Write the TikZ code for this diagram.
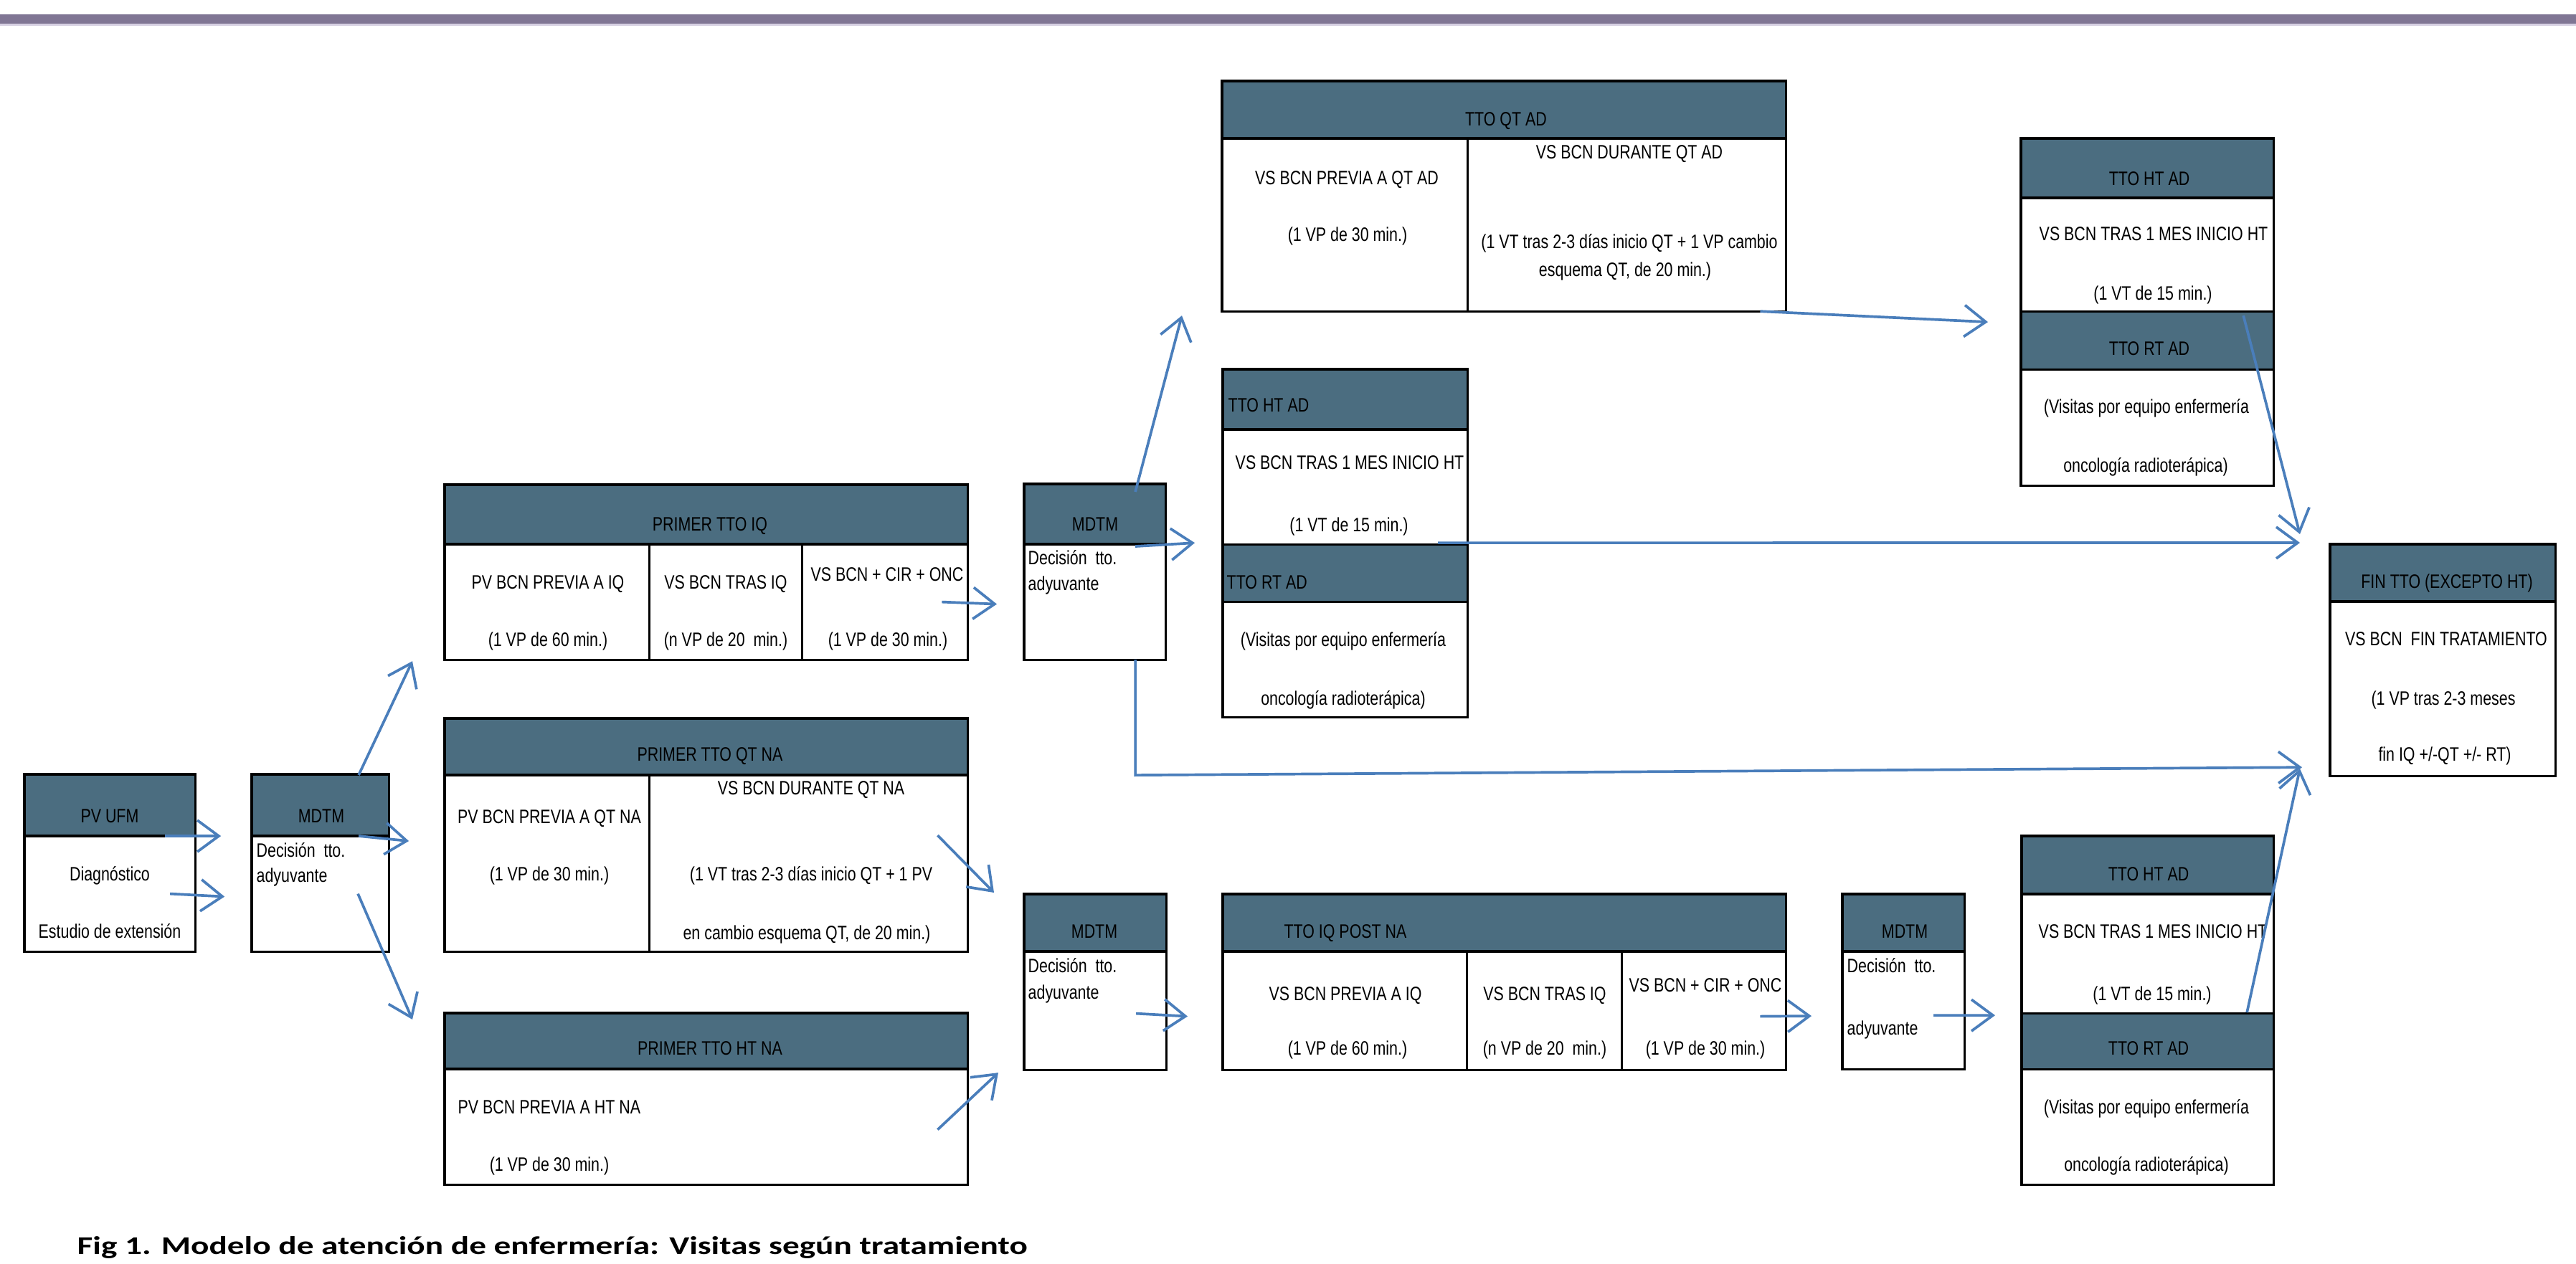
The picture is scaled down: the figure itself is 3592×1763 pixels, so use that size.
\documentclass[tikz,border=0pt]{standalone}
\usepackage{fontspec}
\setmainfont[FakeStretch=0.79]{Liberation Sans}
\newfontfamily\capfont[FakeStretch=1.33]{Carlito}
\usetikzlibrary{arrows.meta, positioning, calc}
\definecolor{slate}{RGB}{75,109,128}
\definecolor{flowblue}{RGB}{74,126,187}
\definecolor{bandpurple}{RGB}{128,118,148}
\definecolor{bandline}{RGB}{214,208,226}

\begin{document}
\begin{tikzpicture}[
  x=0.01cm, y=-0.01cm,
  head/.style={rectangle, draw=black, line width=0.9pt, fill=slate, inner sep=0pt, outer sep=0pt, anchor=north west},
  cell/.style={rectangle, draw=black, line width=0.9pt, fill=white, inner sep=0pt, outer sep=0pt, anchor=north west},
  txt/.style={inner sep=0pt, font=\fontsize{7.7}{9}\selectfont, text height=0.7em, text depth=0.2em},
  ltxt/.style={txt, anchor=west},
  flow/.style={draw=flowblue, line width=1.05pt, -{Straight Barb[length=8.5pt, width=12.5pt]}}
]
  \useasboundingbox (0,0) rectangle (3592,1763);
  \fill[white] (0,0) rectangle (3592,1763);

  % franja superior
  \fill[bandpurple] (0,20) rectangle (3592,33);
  \fill[bandline] (0,33) rectangle (3592,36);

  % Primera visita y primer comite
  \node[head, minimum width=2.38cm, minimum height=0.86cm] (ufmH) at (34,1080) {};
  \node[cell, minimum width=2.38cm, minimum height=1.61cm] (ufmB) at (ufmH.south west) {};
  \node[head, minimum width=1.91cm, minimum height=0.86cm] (mdtmAH) at (351,1080) {};
  \node[cell, minimum width=1.91cm, minimum height=1.61cm] (mdtmAB) at (mdtmAH.south west) {};

  % Primer tratamiento
  \node[head, minimum width=7.29cm, minimum height=0.83cm] (iqH) at (620,676) {};
  \node[cell, minimum width=2.85cm, minimum height=1.61cm] (iqB1) at (iqH.south west) {};
  \node[cell, minimum width=2.13cm, minimum height=1.61cm] (iqB2) at (iqB1.north east) {};
  \node[cell, minimum width=2.31cm, minimum height=1.61cm] (iqB3) at (iqB2.north east) {};

  \node[head, minimum width=7.29cm, minimum height=0.79cm] (qtnaH) at (620,1002) {};
  \node[cell, minimum width=2.85cm, minimum height=2.46cm] (qtnaB1) at (qtnaH.south west) {};
  \node[cell, minimum width=4.44cm, minimum height=2.46cm] (qtnaB2) at (qtnaB1.north east) {};

  \node[head, minimum width=7.29cm, minimum height=0.78cm] (htnaH) at (620,1413) {};
  \node[cell, minimum width=7.29cm, minimum height=1.61cm] (htnaB) at (htnaH.south west) {};

  % Comites
  \node[head, minimum width=1.97cm, minimum height=0.84cm] (mdtmBH) at (1428,675) {};
  \node[cell, minimum width=1.97cm, minimum height=1.61cm] (mdtmBB) at (mdtmBH.south west) {};
  \node[head, minimum width=1.98cm, minimum height=0.80cm] (mdtmCH) at (1428,1247) {};
  \node[cell, minimum width=1.98cm, minimum height=1.65cm] (mdtmCB) at (mdtmCH.south west) {};

  % Tratamientos adyuvantes
  \node[head, minimum width=7.86cm, minimum height=0.80cm] (qtadH) at (1704,113) {};
  \node[cell, minimum width=3.42cm, minimum height=2.41cm] (qtadB1) at (qtadH.south west) {};
  \node[cell, minimum width=4.44cm, minimum height=2.41cm] (qtadB2) at (qtadB1.north east) {};

  \node[head, minimum width=3.41cm, minimum height=0.84cm] (htadAH) at (1705,515) {};
  \node[cell, minimum width=3.41cm, minimum height=1.60cm] (htadAB) at (htadAH.south west) {};
  \node[head, minimum width=3.41cm, minimum height=0.80cm] (rtadAH) at (htadAB.south west) {};
  \node[cell, minimum width=3.41cm, minimum height=1.61cm] (rtadAB) at (rtadAH.south west) {};

  \node[head, minimum width=7.85cm, minimum height=0.80cm] (iqpostH) at (1705,1247) {};
  \node[cell, minimum width=3.40cm, minimum height=1.65cm] (iqpostB1) at (iqpostH.south west) {};
  \node[cell, minimum width=2.16cm, minimum height=1.65cm] (iqpostB2) at (iqpostB1.north east) {};
  \node[cell, minimum width=2.29cm, minimum height=1.65cm] (iqpostB3) at (iqpostB2.north east) {};

  \node[head, minimum width=1.70cm, minimum height=0.80cm] (mdtmDH) at (2569,1247) {};
  \node[cell, minimum width=1.70cm, minimum height=1.64cm] (mdtmDB) at (mdtmDH.south west) {};

  \node[head, minimum width=3.52cm, minimum height=0.83cm] (htadBH) at (2818,193) {};
  \node[cell, minimum width=3.52cm, minimum height=1.58cm] (htadBB) at (htadBH.south west) {};
  \node[head, minimum width=3.52cm, minimum height=0.81cm] (rtadBH) at (htadBB.south west) {};
  \node[cell, minimum width=3.52cm, minimum height=1.62cm] (rtadBB) at (rtadBH.south west) {};

  \node[head, minimum width=3.51cm, minimum height=0.81cm] (htadCH) at (2819,1166) {};
  \node[cell, minimum width=3.51cm, minimum height=1.66cm] (htadCB) at (htadCH.south west) {};
  \node[head, minimum width=3.51cm, minimum height=0.78cm] (rtadCH) at (htadCB.south west) {};
  \node[cell, minimum width=3.51cm, minimum height=1.61cm] (rtadCB) at (rtadCH.south west) {};

  % Fin de tratamiento
  \node[head, minimum width=3.14cm, minimum height=0.80cm] (finH) at (3249,759) {};
  \node[cell, minimum width=3.14cm, minimum height=2.43cm] (finB) at (finH.south west) {};

  % Textos
  \node[txt] (ufmT) at (153,1139) {PV UFM};
  \node[txt] (ufmT1) at (153,1220) {Diagnóstico};
  \node[txt] (ufmT2) at (153,1300) {Estudio de extensión};

  \node[txt] (mdtmAT) at (448,1139) {MDTM};
  \node[ltxt] (mdtmAT1) at (357,1187) {Decisión~ tto.};
  \node[ltxt] (mdtmAT2) at (357,1222) {adyuvante};

  \node[txt] (iqT) at (990,732) {PRIMER TTO IQ};
  \node[txt] (iqT1) at (764,813) {PV BCN PREVIA A IQ};
  \node[txt] (iqT2) at (764,893) {(1 VP de 60 min.)};
  \node[txt] (iqT3) at (1012,813) {VS BCN TRAS IQ};
  \node[txt] (iqT4) at (1012,893) {(n VP de 20~ min.)};
  \node[txt] (iqT5) at (1237,802) {VS BCN + CIR + ONC};
  \node[txt] (iqT6) at (1238,893) {(1 VP de 30 min.)};

  \node[txt] (qtnaT) at (990,1053) {PRIMER TTO QT NA};
  \node[txt] (qtnaT1) at (766,1140) {PV BCN PREVIA A QT NA};
  \node[txt] (qtnaT2) at (766,1220) {(1 VP de 30 min.)};
  \node[txt] (qtnaT3) at (1131,1100) {VS BCN DURANTE QT NA};
  \node[txt] (qtnaT4) at (1131,1220) {(1 VT tras 2-3 días inicio QT + 1 PV};
  \node[txt] (qtnaT5) at (1125,1302) {en cambio esquema QT, de 20 min.)};

  \node[txt] (htnaT) at (990,1463) {PRIMER TTO HT NA};
  \node[ltxt] (htnaT1) at (638,1545) {PV BCN PREVIA A HT NA};
  \node[txt] (htnaT2) at (766,1625) {(1 VP de 30 min.)};

  \node[txt] (mdtmBT) at (1527,732) {MDTM};
  \node[ltxt] (mdtmBT1) at (1433,779) {Decisión~ tto.};
  \node[ltxt] (mdtmBT2) at (1433,815) {adyuvante};

  \node[txt] (mdtmCT) at (1526,1300) {MDTM};
  \node[ltxt] (mdtmCT1) at (1433,1348) {Decisión~ tto.};
  \node[ltxt] (mdtmCT2) at (1433,1385) {adyuvante};

  \node[txt] (qtadT) at (2100,167) {TTO QT AD};
  \node[txt] (qtadT1) at (1878,249) {VS BCN PREVIA A QT AD};
  \node[txt] (qtadT2) at (1879,328) {(1 VP de 30 min.)};
  \node[txt] (qtadT3) at (2272,213) {VS BCN DURANTE QT AD};
  \node[txt] (qtadT4) at (2272,338) {(1 VT tras 2-3 días inicio QT + 1 VP cambio};
  \node[txt] (qtadT5) at (2266,377) {esquema QT, de 20 min.)};

  \node[ltxt] (htadAT) at (1712,566) {TTO HT AD};
  \node[txt] (htadAT1) at (1882,646) {VS BCN TRAS 1 MES INICIO HT};
  \node[txt] (htadAT2) at (1881,733) {(1 VT de 15 min.)};
  \node[ltxt] (rtadAT) at (1710,813) {TTO RT AD};
  \node[txt] (rtadAT1) at (1873,893) {(Visitas por equipo enfermería};
  \node[txt] (rtadAT2) at (1873,975) {oncología radioterápica)};

  \node[txt] (iqpostT) at (1876,1300) {TTO IQ POST NA};
  \node[txt] (iqpostT1) at (1876,1387) {VS BCN PREVIA A IQ};
  \node[txt] (iqpostT2) at (1879,1463) {(1 VP de 60 min.)};
  \node[txt] (iqpostT3) at (2154,1387) {VS BCN TRAS IQ};
  \node[txt] (iqpostT4) at (2154,1463) {(n VP de 20~ min.)};
  \node[txt] (iqpostT5) at (2378,1375) {VS BCN + CIR + ONC};
  \node[txt] (iqpostT6) at (2378,1463) {(1 VP de 30 min.)};

  \node[txt] (mdtmDT) at (2656,1300) {MDTM};
  \node[ltxt] (mdtmDT1) at (2575,1348) {Decisión~ tto.};
  \node[ltxt] (mdtmDT2) at (2575,1435) {adyuvante};

  \node[txt] (htadBT) at (2997,250) {TTO HT AD};
  \node[txt] (htadBT1) at (3003,327) {VS BCN TRAS 1 MES INICIO HT};
  \node[txt] (htadBT2) at (3002,410) {(1 VT de 15 min.)};
  \node[txt] (rtadBT) at (2997,487) {TTO RT AD};
  \node[txt] (rtadBT1) at (2993,568) {(Visitas por equipo enfermería};
  \node[txt] (rtadBT2) at (2992,650) {oncología radioterápica)};

  \node[txt] (htadCT) at (2996,1220) {TTO HT AD};
  \node[txt] (htadCT1) at (3002,1300) {VS BCN TRAS 1 MES INICIO HT};
  \node[txt] (htadCT2) at (3001,1387) {(1 VT de 15 min.)};
  \node[txt] (rtadCT) at (2996,1463) {TTO RT AD};
  \node[txt] (rtadCT1) at (2993,1545) {(Visitas por equipo enfermería};
  \node[txt] (rtadCT2) at (2993,1625) {oncología radioterápica)};

  \node[txt] (finT) at (3412,812) {FIN TTO (EXCEPTO HT)};
  \node[txt] (finT1) at (3411,892) {VS BCN~ FIN TRATAMIENTO};
  \node[txt] (finT2) at (3407,975) {(1 VP tras 2-3 meses};
  \node[txt] (finT3) at (3409,1053) {fin IQ +/-QT +/- RT)};

  % Flechas
  \draw[flow] ($(ufmH.south east)+(-42,0)$) -- ($(ufmH.south east)+(36,0)$);
  \draw[flow] ($(ufmB.east)+(-35,0)$) -- ($(ufmB.east)+(41,4)$);
  \draw[flow] ($(mdtmAH.north east)+(-42,1)$) -- ($(iqB1.south west)+(-45,2)$);
  \draw[flow] ($(mdtmAH.south east)+(-42,0)$) -- ($(mdtmAH.south east)+(28,7)$);
  \draw[flow] ($(mdtmAB.east)+(-43,0)$) -- ($(htnaH.north west)+(-45,9)$);
  \draw[flow] ($(iqB3.east)+(-36,0)$) -- ($(mdtmBB.west)+(-38,3)$);
  \draw[flow] ($(qtnaB2.east)+(-42,-39)$) -- ($(mdtmCH.north west)+(-42,-2)$);
  \draw[flow] ($(htnaB.east)+(-42,4)$) -- ($(mdtmCB.south west)+(-36,4)$);
  \draw[flow] ($(mdtmBH.north east)+(-42,11)$) -- ($(qtadB1.south west)+(-56,6)$);
  \draw[flow] ($(mdtmBH.south east)+(-42,3)$) -- ($(htadAB.south west)+(-39,-2)$);
  \draw[flow] ($(mdtmBB.south east)+(-42,0)$) -- ++(0,161) -- ($(finB.south west)+(-39,-12)$);
  \draw[flow] ($(mdtmCB.east)+(-42,4)$) -- ($(iqpostB1.west)+(-49,8)$);
  \draw[flow] ($(iqpostB3.east)+(-36,8)$) -- ($(mdtmDB.west)+(-43,8)$);
  \draw[flow] ($(mdtmDB.east)+(-43,7)$) -- ($(htadCB.south west)+(-37,3)$);
  \draw[flow] ($(qtadB2.south east)+(-36,0)$) -- ($(htadBB.south west)+(-46,15)$);
  \draw[flow] ($(htadAB.south east)+(-41,-2)$) -- ($(finH.north west)+(-42,-2)$);
  \draw[flow] ($(htadBB.south east)+(-42,6)$) -- ($(finH.north west)+(-42,-14)$);
  \draw[flow] ($(htadCB.south east)+(-37,-1)$) -- ($(finB.south west)+(-42,-10)$);

  % Pie de figura
  \node[anchor=west, inner sep=0pt, font=\capfont\bfseries\fontsize{10.1}{12}\selectfont] (caption) at (107,1740) {Fig 1. Modelo de atención de enfermería: Visitas según tratamiento};
\end{tikzpicture}
\end{document}
